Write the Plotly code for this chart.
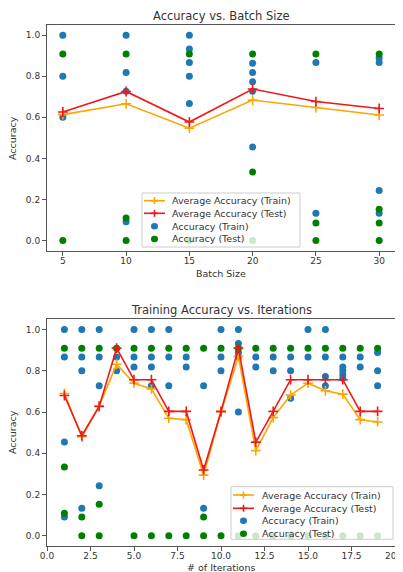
import plotly.graph_objects as go

# ---------------- Data: Accuracy vs. Batch Size ----------------
batch_sizes = [5, 10, 15, 20, 25, 30]
avg_train_batch = [0.613, 0.666, 0.547, 0.684, 0.648, 0.611]
avg_test_batch = [0.626, 0.726, 0.577, 0.738, 0.677, 0.643]

train_batch_x = [5, 5, 5,
                 10, 10, 10, 10,
                 15, 15, 15, 15, 15,
                 20, 20, 20, 20, 20,
                 25, 25,
                 30, 30, 30, 30]
train_batch_y = [1.0, 0.8, 0.6,
                 1.0, 0.818, 0.727, 0.091,
                 1.0, 0.933, 0.867, 0.8, 0.667,
                 0.864, 0.818, 0.773, 0.727, 0.455,
                 0.867, 0.133,
                 0.889, 0.867, 0.244, 0.133]

test_batch_x = [5, 5,
                10, 10, 10,
                15, 15,
                20, 20, 20,
                25, 25, 25,
                30, 30, 30, 30]
test_batch_y = [0.909, 0.0,
                0.909, 0.109, 0.0,
                0.909, 0.0,
                0.909, 0.333, 0.0,
                0.909, 0.085, 0.0,
                0.909, 0.152, 0.085, 0.0]

# ---------------- Data: Training Accuracy vs. Iterations ----------------
iterations = list(range(1, 20))
avg_train_iter = [0.69, 0.48, 0.63, 0.832, 0.74, 0.712, 0.57, 0.563, 0.294, 0.60,
                  0.87, 0.413, 0.573, 0.682, 0.74, 0.703, 0.687, 0.563, 0.552]
avg_test_iter = [0.68, 0.485, 0.627, 0.91, 0.757, 0.757, 0.603, 0.603, 0.319, 0.603,
                 0.91, 0.454, 0.603, 0.757, 0.757, 0.757, 0.757, 0.603, 0.603]

train_iter_points = {
    1: [1.0, 0.867, 0.455, 0.091],
    2: [1.0, 0.867, 0.8, 0.133],
    3: [1.0, 0.867, 0.727, 0.242],
    4: [0.867, 0.8],
    5: [1.0, 0.867, 0.818],
    6: [1.0, 0.867, 0.818, 0.727],
    7: [1.0, 0.867, 0.727],
    8: [0.867, 0.818],
    9: [0.727, 0.133],
    10: [1.0, 0.867, 0.8],
    11: [1.0, 0.933, 0.889, 0.867, 0.6],
    12: [0.867, 0.818],
    13: [0.867, 0.8],
    14: [0.867, 0.8, 0.667],
    15: [1.0, 0.867],
    16: [1.0, 0.867, 0.773, 0.727],
    17: [0.867, 0.818, 0.8, 0.782, 0.764],
    18: [0.867, 0.818],
    19: [0.889, 0.8, 0.727],
}
test_iter_points = {
    1: [0.909, 0.333, 0.109],
    2: [0.909, 0.091, 0.0],
    3: [0.909, 0.152, 0.0],
    4: [0.909],
    5: [0.909, 0.0], 6: [0.909, 0.0], 7: [0.909, 0.0], 8: [0.909, 0.0],
    9: [0.909, 0.091, 0.0],
    10: [0.909, 0.0], 11: [0.909, 0.0], 12: [0.909, 0.0], 13: [0.909, 0.0],
    14: [0.909, 0.0], 15: [0.909, 0.0], 16: [0.909, 0.0], 17: [0.909, 0.0],
    18: [0.909, 0.0], 19: [0.909, 0.0],
}

train_iter_x = [k for k, v in train_iter_points.items() for _ in v]
train_iter_y = [y for v in train_iter_points.values() for y in v]
test_iter_x = [k for k, v in test_iter_points.items() for _ in v]
test_iter_y = [y for v in test_iter_points.values() for y in v]

legend_labels = ["Average Accuracy (Train)", "Average Accuracy (Test)",
                 "Accuracy (Train)", "Accuracy (Test)"]

# ---------------- Styling ----------------
FONT = "DejaVu Sans"
BLUE = "#1f77b4"
GREEN = "#008000"
ORANGE = "#FFA500"
RED = "#F01818"
TXT = "#333333"
SPINE = "#555555"
OFF = 8                       # page body margin offset
W, H = 403 - OFF, 572 - OFF   # figure size that fits the window

def px(xp):
    return (xp - OFF) / W

def py(yp):
    return 1 - (yp - OFF) / H

fig = go.Figure()

def add_panel(xa, ya, sx, sy, tx, ty, lx, l_avg_tr, l_avg_te):
    fig.add_trace(go.Scatter(x=sx, y=sy, mode="markers", name=legend_labels[2],
                             marker=dict(color=BLUE, size=7), xaxis=xa, yaxis=ya,
                             showlegend=False))
    fig.add_trace(go.Scatter(x=tx, y=ty, mode="markers", name=legend_labels[3],
                             marker=dict(color=GREEN, size=7), xaxis=xa, yaxis=ya,
                             showlegend=False))
    for ys, col, nm in [(l_avg_tr, ORANGE, legend_labels[0]), (l_avg_te, RED, legend_labels[1])]:
        fig.add_trace(go.Scatter(x=lx, y=ys, mode="lines+markers", name=nm,
                                 line=dict(color=col, width=1.6),
                                 marker=dict(symbol="cross-thin", size=7,
                                             line=dict(color=col, width=1.6)),
                                 xaxis=xa, yaxis=ya, showlegend=False))

add_panel("x", "y", train_batch_x, train_batch_y, test_batch_x, test_batch_y,
          batch_sizes, avg_train_batch, avg_test_batch)
add_panel("x2", "y2", train_iter_x, train_iter_y, test_iter_x, test_iter_y,
          iterations, avg_train_iter, avg_test_iter)

axis_common = dict(showline=True, mirror=True, linecolor=SPINE, linewidth=1,
                   ticks="outside", ticklen=4, tickcolor=SPINE, showgrid=False,
                   zeroline=False, ticklabeloverflow="allow", automargin=False,
                   tickfont=dict(family=FONT, size=9, color=TXT))

fig.update_layout(
    width=W, height=H, margin=dict(l=0, r=0, t=0, b=0, autoexpand=False),
    paper_bgcolor="white", plot_bgcolor="white", showlegend=False,
    xaxis=dict(domain=[px(47), px(395)], anchor="y", range=[3.75, 31.25],
               tickvals=[5, 10, 15, 20, 25, 30], ticklabelstandoff=-3, **axis_common),
    yaxis=dict(domain=[py(250.7), py(25)], anchor="x", range=[-0.05, 1.05],
               tickvals=[0, 0.2, 0.4, 0.6, 0.8, 1.0], tickformat=".1f", **axis_common),
    xaxis2=dict(domain=[px(47), px(395)], anchor="y2", range=[0, 20],
                tickvals=[0, 2.5, 5, 7.5, 10, 12.5, 15, 17.5, 20],
                ticktext=["0.0", "2.5", "5.0", "7.5", "10.0", "12.5", "15.0", "17.5", "20.0"],
                ticklabelstandoff=-3, **axis_common),
    yaxis2=dict(domain=[py(546), py(319.3)], anchor="x2", range=[-0.05, 1.05],
                tickvals=[0, 0.2, 0.4, 0.6, 0.8, 1.0], tickformat=".1f", **axis_common),
)

def add_text(text, xp, yp, size, xanchor="center", angle=0):
    fig.add_annotation(text=text, x=px(xp), y=py(yp), xref="paper", yref="paper",
                       xanchor=xanchor, yanchor="middle", showarrow=False, textangle=angle,
                       font=dict(family=FONT, size=size, color=TXT))

cx = (47 + 395) / 2
add_text("Accuracy vs. Batch Size", cx, 16, 11.5)
add_text("Batch Size", cx, 273, 9.5)
add_text("Training Accuracy vs. Iterations", cx, 310, 11.5)
add_text("# of Iterations", cx, 567, 9.5)
add_text("Accuracy", 12, 138, 9.5, angle=-90)
add_text("Accuracy", 12, 432, 9.5, angle=-90)

# Hand-built matplotlib-style legends (compact row spacing)
def add_legend(bx0, by0, bx1, by1, rows, hx0, hx1, tx):
    fig.add_shape(type="rect", xref="paper", yref="paper", layer="above",
                  x0=px(bx0), x1=px(bx1), y0=py(by1), y1=py(by0),
                  fillcolor="rgba(255,255,255,0.8)", line=dict(color="#cccccc", width=1))
    hc = (hx0 + hx1) / 2
    for i, col in enumerate([ORANGE, RED]):
        yr = rows[i]
        fig.add_shape(type="line", xref="paper", yref="paper", layer="above",
                      x0=px(hx0), x1=px(hx1), y0=py(yr), y1=py(yr),
                      line=dict(color=col, width=1.6))
        fig.add_shape(type="line", xref="paper", yref="paper", layer="above",
                      x0=px(hc - 3.5), x1=px(hc + 3.5), y0=py(yr), y1=py(yr),
                      line=dict(color=col, width=1.6))
        fig.add_shape(type="line", xref="paper", yref="paper", layer="above",
                      x0=px(hc), x1=px(hc), y0=py(yr - 3.5), y1=py(yr + 3.5),
                      line=dict(color=col, width=1.6))
    for i, col in enumerate([BLUE, GREEN]):
        yr = rows[2 + i]
        fig.add_shape(type="circle", xref="paper", yref="paper", layer="above",
                      x0=px(hc - 3.5), x1=px(hc + 3.5), y0=py(yr + 3.2), y1=py(yr - 3.2),
                      fillcolor=col, line=dict(color=col, width=0))
    for i, lab in enumerate(legend_labels):
        add_text(lab, tx, rows[i], 9.5, xanchor="left")

add_legend(142, 193, 300, 247, [200.7, 213.3, 226.3, 239.0], 144, 165, 170)
add_legend(231, 486.7, 393, 539.3, [495.0, 508.3, 520.7, 533.7], 233, 254, 260)

fig.write_html("out.html")
